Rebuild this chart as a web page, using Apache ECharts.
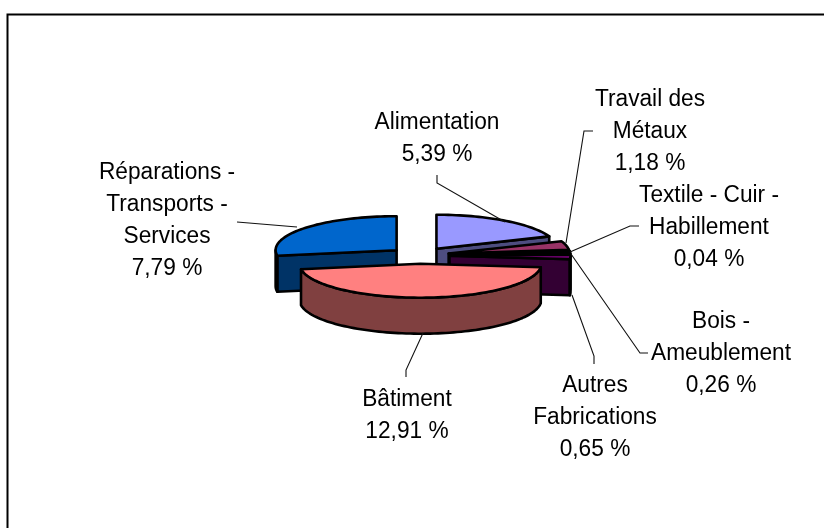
<!DOCTYPE html>
<html><head><meta charset="utf-8">
<style>html,body{margin:0;padding:0;background:#fff}#c{width:824px;height:528px}</style>
<script src="https://cdn.jsdelivr.net/npm/echarts@6/dist/echarts.min.js"></script>
</head><body><div id="c"></div>
<script>
const categories = ['Alimentation','Travail des\nMétaux','Textile - Cuir -\nHabillement','Bois -\nAmeublement','Autres\nFabrications','Bâtiment','Réparations -\nTransports -\nServices'];
const values = [5.39,1.18,0.04,0.26,0.65,12.91,7.79];
const topColors = ['#9999FF','#993366','#FFFFCC','#CCFFFF','#660066','#FF8080','#0066CC'];
const wallColors = ['#4D4D80','#4D1A33','#808066','#668080','#330033','#804040','#003366'];
// label centre (x, y of first line) and leader polyline, per slice
const labelAnchors = [[437,122],[650,99.5],[709,195.5],[721,321.5],[595,385],[407,399],[167,172.5]];
const leaders = [
 [[437,175],[437,183],[505,222]],
 [[593,131],[584,131],[566,243]],
 [[639,226],[630,226],[570,252]],
 [[648,353],[640,353],[571,254]],
 [[594,364],[594,356],[572,295]],
 [[406,377],[406,370],[423,333]],
 [[237,222],[297,227]]
];
const geom = {cx:419.5, cy:255.5, rx:121, ry:34, depth:36, ex:30, ey:8.2};
const total = values.reduce((a,b)=>a+b,0);
const lineH = 32, fontSize = 22.7, textStretch = 1.06;

function pt(c,a,rx,ry){return [c[0]+rx*Math.sin(a), c[1]-ry*Math.cos(a)];}
function down(p){return [p[0],p[1]+geom.depth];}
function poly(points,fill){return {type:'polygon',shape:{points},style:{fill,stroke:'#000',lineWidth:2.6,lineJoin:'round'}};}

function sliceEls(a0,a1,i){
  const mid=(a0+a1)/2, c=[geom.cx+geom.ex*Math.sin(mid), geom.cy-geom.ey*Math.cos(mid)];
  const els=[], P=a=>pt(c,a,geom.rx,geom.ry);
  const wall=(p,q)=>els.push(poly([p,q,down(q),down(p)],wallColors[i]));
  if(Math.cos(a0-Math.PI/2)<0) wall(c,P(a0));
  if(Math.cos(a1+Math.PI/2)<0) wall(c,P(a1));
  const s=Math.max(a0,Math.PI/2), e=Math.min(a1,3*Math.PI/2);
  if(e>s){
    const up=[],n=Math.max(2,Math.ceil((e-s)*30));
    for(let k=0;k<=n;k++) up.push(P(s+(e-s)*k/n));
    els.push(poly(up.concat(up.slice().reverse().map(down)),wallColors[i]));
  }
  const top=[c],n=Math.max(2,Math.ceil((a1-a0)*30));
  for(let k=0;k<=n;k++) top.push(P(a0+(a1-a0)*k/n));
  els.push(poly(top,topColors[i]));
  return els;
}

const order=[6,0,1,2,3,4,5];
const rows=values.map((v,i)=>[v,values.slice(0,i).reduce((a,b)=>a+b,0),i]);
const chart=echarts.init(document.getElementById('c'),null,{renderer:'canvas'});
chart.setOption({
  animation:false,
  backgroundColor:'#fff',
  graphic:[{type:'polyline',z:0,shape:{points:[[7.5,528],[7.5,14.5],[824,14.5]]},style:{stroke:'#000',lineWidth:2,fill:null}}],
  series:[
   {type:'custom',coordinateSystem:'none',silent:true,z:2,
    data:order.map(i=>rows[i]),
    renderItem(p,api){
      const v=api.value(0),b=api.value(1),i=api.value(2);
      return {type:'group',children:sliceEls(b/total*2*Math.PI,(b+v)/total*2*Math.PI,i)};
    }},
   {type:'custom',coordinateSystem:'none',silent:true,z:3,
    data:rows,
    renderItem(p,api){
      const v=api.value(0),i=api.value(2);
      const lines=(categories[i]+'\n'+v.toFixed(2).replace('.',',')+' %').split('\n');
      const kids=[{type:'polyline',shape:{points:leaders[i]},style:{stroke:'#111',lineWidth:1.1,fill:null}}];
      lines.forEach((t,k)=>kids.push({type:'text',x:labelAnchors[i][0],y:labelAnchors[i][1]+k*lineH,scaleY:textStretch,style:{text:t,x:0,y:0,align:'center',verticalAlign:'middle',fill:'#000',font:fontSize+'px "Liberation Sans", Arial, sans-serif'}}));
      return {type:'group',children:kids};
    }}
  ]
});
</script></body></html>
